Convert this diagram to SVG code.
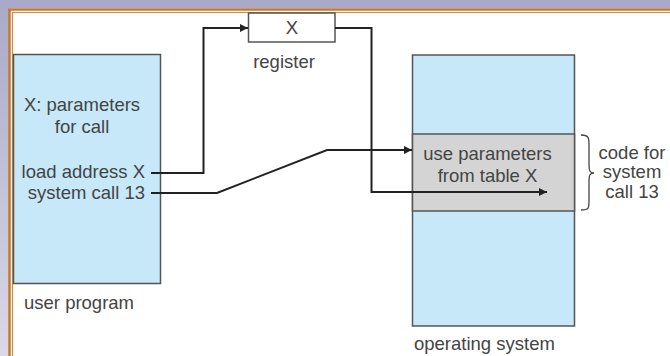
<svg xmlns="http://www.w3.org/2000/svg" width="670" height="356" viewBox="0 0 670 356">
<defs>
<linearGradient id="side" x1="0" y1="0" x2="0" y2="1">
<stop offset="0" stop-color="#a9a9c9"/>
<stop offset="1" stop-color="#d9d9e8"/>
</linearGradient>
<marker id="ah" viewBox="0 0 10 10" refX="10" refY="5" markerWidth="10" markerHeight="8" markerUnits="userSpaceOnUse" orient="auto">
<path d="M0,0 L10,5 L0,10 z" fill="#222"/>
</marker>
</defs>
<style>
text{font-family:"Liberation Sans",Arial,sans-serif;font-size:18.5px;fill:#444}
.mid{text-anchor:middle}
.end{text-anchor:end}
.box{stroke:#555;stroke-width:1.5}
.con{fill:none;stroke:#222;stroke-width:2}
</style>
<rect x="0" y="0" width="670" height="356" fill="#ffffff"/>
<rect x="0" y="0" width="9" height="356" fill="url(#side)"/>
<rect x="0" y="0" width="670" height="8" fill="#a9a9c9"/>
<path d="M9.5,356 V9.5 H670" fill="none" stroke="#c8782a" stroke-width="2.5"/>
<path d="M12.5,356 V12.5 H670" fill="none" stroke="#d08a40" stroke-width="1.2"/>

<g id="user-program">
<rect class="box" x="13.5" y="54.5" width="147" height="229" fill="#c6e8f9"/>
<text class="mid" x="82" y="111">X: parameters</text>
<text class="mid" x="82" y="133">for call</text>
<text class="end" x="145" y="178">load address X</text>
<text class="end" x="145" y="199">system call 13</text>
<text x="24" y="309">user program</text>
</g>

<g id="register">
<rect class="box" x="248.5" y="13" width="86.5" height="29" fill="#ffffff"/>
<text class="mid" x="292" y="34">X</text>
<text class="mid" x="284" y="68">register</text>
</g>

<g id="operating-system">
<rect class="box" x="412.5" y="55" width="162" height="271" fill="#c6e8f9"/>
<rect class="box" x="412.5" y="134" width="162" height="77" fill="#d4d4d4"/>
<text class="mid" x="487.5" y="160">use parameters</text>
<text class="mid" x="487.5" y="181.5">from table X</text>
<text x="414" y="350">operating system</text>
</g>

<g id="code-label">
<path d="M581,135 C589,135 589,138 589,145 V165 C589,171 590,173 594,173 C590,173 589,175 589,181 V201 C589,208 589,210 581,210" fill="none" stroke="#444" stroke-width="1.3"/>
<text class="mid" x="632" y="159">code for</text>
<text class="mid" x="632" y="178">system</text>
<text class="mid" x="632" y="198">call 13</text>
</g>

<g id="connectors">
<path class="con" d="M151,173 H203.5 V28 H248" marker-end="url(#ah)"/>
<path class="con" d="M335,28 H371.5 V192 H547" marker-end="url(#ah)"/>
<path class="con" d="M151,193 H217 L327,150 H412" marker-end="url(#ah)"/>
</g>
</svg>
